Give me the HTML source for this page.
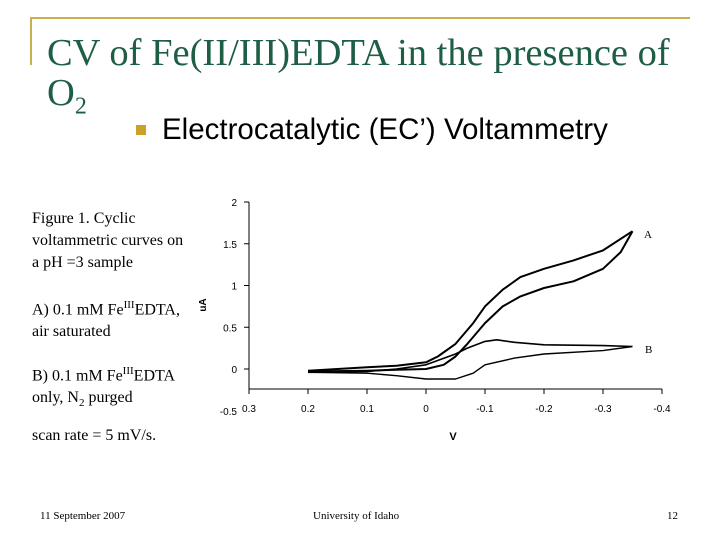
<!DOCTYPE html>
<html><head><meta charset="utf-8"><style>
body{margin:0;width:720px;height:540px;background:#fff;overflow:hidden;position:relative;font-family:"Liberation Serif",serif}
.a{position:absolute;white-space:nowrap}
.lt{font-size:16px;line-height:22px;color:#000}
</style></head><body>
<div class="a" style="left:30px;top:17px;width:660px;height:2px;background:#c8b04a"></div>
<div class="a" style="left:30px;top:17px;width:2px;height:48px;background:#c8b04a"></div>
<div class="a" style="left:47px;top:33px;font-size:38.5px;line-height:40px;color:#1d5e45">CV of Fe(II/III)EDTA in the presence of<br>O<sub style="font-size:24px">2</sub></div>
<div class="a" style="left:136px;top:125px;width:10px;height:10px;background:#c9a227"></div>
<div class="a" style="left:162px;top:113px;font-family:'Liberation Sans',sans-serif;font-size:29.5px">Electrocatalytic (EC’) Voltammetry</div>
<div class="a lt" style="left:32px;top:208px">Figure 1. Cyclic<br>voltammetric curves on<br>a pH =3 sample</div>
<div class="a lt" style="left:32px;top:294px">A) 0.1 mM Fe<sup style="font-size:11px">III</sup>EDTA,<br>air saturated</div>
<div class="a lt" style="left:32px;top:360px">B) 0.1 mM Fe<sup style="font-size:11px">III</sup>EDTA<br>only, N<sub style="font-size:11px">2</sub> purged</div>
<div class="a lt" style="left:32px;top:425px">scan rate = 5 mV/s.</div>
<div class="a" style="left:40px;top:510px;font-size:11px">11 September 2007</div>
<div class="a" style="left:313px;top:510px;font-size:11px">University of Idaho</div>
<div class="a" style="left:667px;top:510px;font-size:11px">12</div>
<svg class="a" style="left:0;top:0" width="720" height="540" id="ch"></svg>
<script>
const yTicks=[2,1.5,1,0.5,0,-0.5];
const yTickLabels=["2","1.5","1","0.5","0","-0.5"];
const xTicks=[0.3,0.2,0.1,0,-0.1,-0.2,-0.3,-0.4];
const xTickLabels=["0.3","0.2","0.1","0","-0.1","-0.2","-0.3","-0.4"];
const aFwdV=[0.2,0.1,0.05,0,-0.03,-0.05,-0.07,-0.1,-0.13,-0.16,-0.2,-0.25,-0.3,-0.33,-0.35];
const aFwdI=[-0.03,-0.02,-0.01,0.0,0.05,0.15,0.3,0.55,0.75,0.87,0.97,1.05,1.2,1.4,1.65];
const aRevV=[-0.35,-0.3,-0.25,-0.2,-0.16,-0.13,-0.1,-0.08,-0.05,-0.02,0,0.05,0.1,0.2];
const aRevI=[1.65,1.42,1.3,1.2,1.1,0.95,0.75,0.55,0.3,0.15,0.08,0.04,0.02,-0.02];
const bFwdV=[0.2,0.1,0.05,0,-0.05,-0.08,-0.1,-0.15,-0.2,-0.3,-0.35];
const bFwdI=[-0.04,-0.05,-0.08,-0.12,-0.12,-0.05,0.05,0.13,0.18,0.22,0.27];
const bRevV=[-0.35,-0.3,-0.2,-0.15,-0.12,-0.1,-0.07,-0.05,0,0.05,0.1,0.2];
const bRevI=[0.27,0.28,0.29,0.32,0.35,0.33,0.25,0.18,0.05,0.0,-0.03,-0.04];
const sx=v=>426-v*590, sy=i=>369-i*83.5;
const svg=document.getElementById('ch'),NS='http://www.w3.org/2000/svg';
function mk(t,at,txt){const e=document.createElementNS(NS,t);for(const k in at)e.setAttribute(k,at[k]);if(txt!=null)e.textContent=txt;svg.appendChild(e);return e;}
let e=mk('line',{x1:249,y1:sy(2),x2:249,y2:389,stroke:'#000','stroke-width':1});

e=mk('line',{x1:249,y1:389,x2:sx(-0.4),y2:389,stroke:'#000','stroke-width':1});

yTicks.forEach((t,k)=>{
 if(t>=-0.24){e=mk('line',{x1:244,y1:sy(t),x2:249,y2:sy(t),stroke:'#000'});}
 e=mk('text',{x:237,y:sy(t)+4,'text-anchor':'end','font-family':'Liberation Sans,sans-serif','font-size':10},yTickLabels[k]);
 
});
xTicks.forEach((t,k)=>{
 e=mk('line',{x1:sx(t),y1:389,x2:sx(t),y2:394,stroke:'#000'});
 e=mk('text',{x:sx(t),y:412,'text-anchor':'middle','font-family':'Liberation Sans,sans-serif','font-size':10},xTickLabels[k]);
 
});
e=mk('text',{x:453,y:440,'text-anchor':'middle','font-family':'Liberation Sans,sans-serif','font-size':11,'font-weight':'bold'},'V');

e=mk('text',{x:206,y:305,'text-anchor':'middle','font-family':'Liberation Sans,sans-serif','font-size':10,'font-weight':'bold',transform:'rotate(-90 206 305)'},'uA');

function path(V,I,w,name){let d=V.map((v,k)=>(k?'L':'M')+sx(v).toFixed(1)+','+sy(I[k]).toFixed(1)).join('');
 const p=mk('path',{d:d,fill:'none',stroke:'#000','stroke-width':w,'stroke-linejoin':'round'});
 }
path(aFwdV,aFwdI,2,'curve-a-forward');path(aRevV,aRevI,2,'curve-a-reverse');
path(bFwdV,bFwdI,1.4,'curve-b-forward');path(bRevV,bRevI,1.6,'curve-b-reverse');
e=mk('text',{x:644,y:238,'font-family':'Liberation Serif,serif','font-size':11},'A');
e=mk('text',{x:645,y:353,'font-family':'Liberation Serif,serif','font-size':11},'B');
</script>
</body></html>
